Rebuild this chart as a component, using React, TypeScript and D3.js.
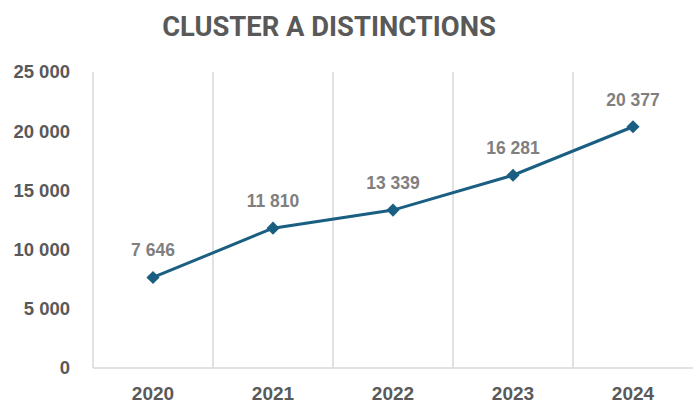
import React from 'react';
import * as d3 from 'd3';

const width = 693;
const height = 404;
const margin = { top: 72, right: 0, bottom: 36, left: 93 };

const years = ['2020', '2021', '2022', '2023', '2024'];
const distinctions = [7646, 11810, 13339, 16281, 20377];
const yTicks = [0, 5000, 10000, 15000, 20000, 25000];

const lineColor = '#1a5f82';
const gridColor = '#d9d9d9';
const axisText = '#595959';
const labelText = '#7f7f7f';
const sans = '"Liberation Sans", Arial, sans-serif';

const fmt = (v: number) => d3.format(',')(v).replace(/,/g, ' ');

export default function App() {
  const x = d3.scaleBand().domain(years).range([margin.left, width - margin.right]);
  const y = d3.scaleLinear().domain([0, 25000]).range([height - margin.bottom, margin.top]);
  const cx = (d: string) => (x(d) as number) + x.bandwidth() / 2;

  const points = years.map((yr, i) => ({ yr, v: distinctions[i] }));
  const line = d3.line<{ yr: string; v: number }>().x(d => cx(d.yr)).y(d => y(d.v));
  const diamond = d3.symbol().type(d3.symbolDiamond2).size(110)();

  const boundaries = years.map(d => x(d) as number);

  return (
    <svg width={width} height={height} style={{ position: 'absolute', left: 0, top: 0, background: '#fff' }}>
      <text x={329} y={36} textAnchor="middle" fontFamily="Roboto, sans-serif" fontWeight="bold" fontSize={27.4} fill={axisText}>
        CLUSTER A DISTINCTIONS
      </text>

      {boundaries.map(b => (
        <line key={b} x1={b} x2={b} y1={y(25000)} y2={y(0)} stroke={gridColor} strokeWidth={1.5} />
      ))}
      <line x1={margin.left} x2={width} y1={y(0)} y2={y(0)} stroke={gridColor} strokeWidth={1.5} />

      {yTicks.map(t => (
        <text key={t} x={70} y={y(t)} dy="0.35em" textAnchor="end" fontFamily={sans} fontWeight="bold" fontSize={18.5} fill={axisText}>
          {fmt(t)}
        </text>
      ))}

      {years.map(yr => (
        <text key={yr} x={cx(yr)} y={393} dy="0.35em" textAnchor="middle" fontFamily={sans} fontWeight="bold" fontSize={19} fill={axisText}>
          {yr}
        </text>
      ))}

      <path d={line(points) || ''} fill="none" stroke={lineColor} strokeWidth={3} />
      {points.map(p => (
        <path key={p.yr} d={diamond || ''} transform={`translate(${cx(p.yr)},${y(p.v)})`} fill={lineColor} />
      ))}

      {points.map(p => (
        <text key={p.yr} x={cx(p.yr)} y={y(p.v) - 21} textAnchor="middle" fontFamily={sans} fontWeight="bold" fontSize={17.5} fill={labelText}>
          {fmt(p.v)}
        </text>
      ))}
    </svg>
  );
}
